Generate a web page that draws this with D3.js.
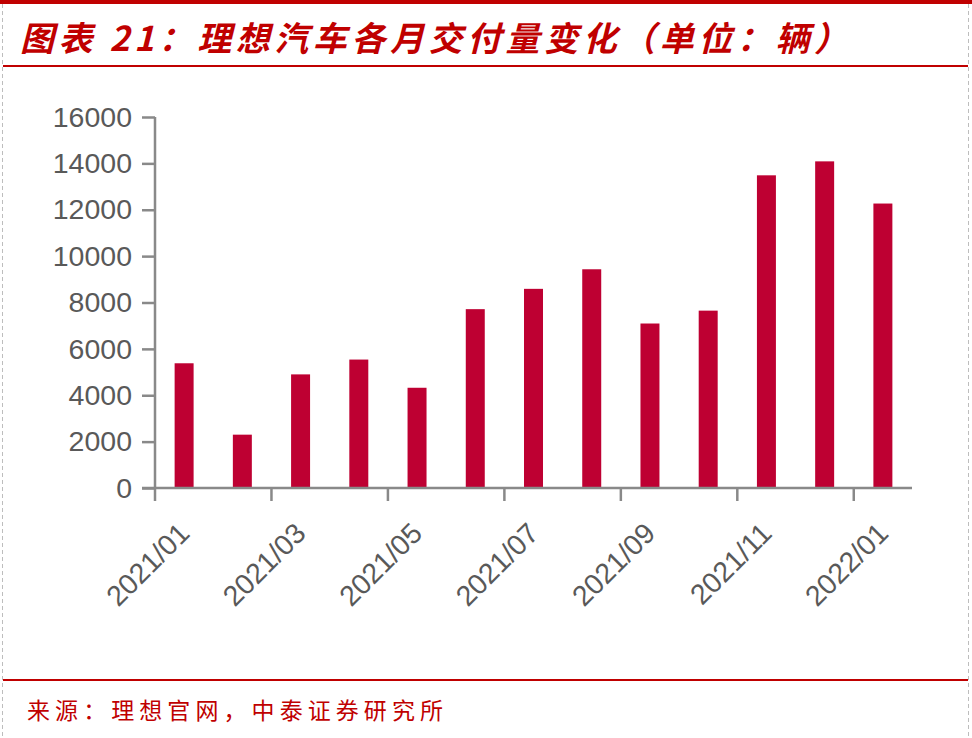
<!DOCTYPE html>
<html><head><meta charset="utf-8">
<script src="https://cdn.jsdelivr.net/npm/d3@7"></script>
<style>html,body{margin:0;padding:0;background:#fff;}svg{display:block;}</style>
</head><body>
<svg id="c" width="972" height="738"></svg>
<script>
const months = ["2021/01","2021/02","2021/03","2021/04","2021/05","2021/06","2021/07","2021/08","2021/09","2021/10","2021/11","2021/12","2022/01"];
const deliveries = [5379,2300,4900,5539,4323,7713,8589,9433,7094,7649,13485,14087,12268];
const yTicks = [0,2000,4000,6000,8000,10000,12000,14000,16000];
const labelMonths = ["2021/01","2021/03","2021/05","2021/07","2021/09","2021/11","2022/01"];
const titleText = "图表 21：理想汽车各月交付量变化（单位：辆）";
const sourceText = "来源：理想官网，中泰证券研究所";

const svg = d3.select("#c");
const red = "#C00000", barColor = "#BE0032", axisColor = "#898989", txt = "#595959";

// frame
svg.append("rect").attr("x",0).attr("y",0).attr("width",972).attr("height",4).attr("fill",red);
[2.5, 968.5].forEach(x => svg.append("line").attr("x1",x).attr("x2",x).attr("y1",4).attr("y2",738)
  .attr("stroke","#bdbdbd").attr("stroke-width",1).attr("stroke-dasharray","4,3"));
svg.append("line").attr("x1",3).attr("x2",968).attr("y1",66).attr("y2",66).attr("stroke",red).attr("stroke-width",2);
svg.append("line").attr("x1",3).attr("x2",968).attr("y1",680).attr("y2",680).attr("stroke",red).attr("stroke-width",2);

svg.append("text").attr("x",20).attr("y",51).text(titleText)
  .attr("font-family","'Noto Sans CJK SC'").attr("font-weight","bold").attr("font-style","italic")
  .attr("font-size",34).attr("fill",red).attr("textLength",828).attr("lengthAdjust","spacing");

svg.append("text").attr("x",27).attr("y",719).text(sourceText)
  .attr("font-family","'Noto Sans CJK SC'").attr("font-size",23).attr("fill",red)
  .attr("textLength",416).attr("lengthAdjust","spacing");

// scales
const x = d3.scaleBand().domain(months).range([155, 912]).paddingInner(0.674).paddingOuter(0.337);
const y = d3.scaleLinear().domain([0,16000]).range([488,117]);

// bars
svg.append("g").selectAll("rect").data(months).join("rect")
  .attr("x", d => x(d)).attr("width", x.bandwidth())
  .attr("y", (d,i) => y(deliveries[i])).attr("height", (d,i) => y(0) - y(deliveries[i]))
  .attr("fill", barColor);

// y axis
const yAxis = svg.append("g").attr("transform","translate(155,0)")
  .call(d3.axisLeft(y).tickValues(yTicks).tickSize(13).tickPadding(10).tickFormat(d3.format("d")));
yAxis.select(".domain").attr("stroke",axisColor).attr("stroke-width",2.5).attr("d","M0,117V488");
yAxis.selectAll(".tick line").attr("stroke",axisColor).attr("stroke-width",2.5);
yAxis.selectAll(".tick text").attr("fill",txt).attr("font-family","'Liberation Sans', Arial, sans-serif").attr("font-size",28.5);

// x axis
const step = x.step();
const x0 = x.range()[0];
svg.append("line").attr("x1",142).attr("x2",912).attr("y1",488).attr("y2",488).attr("stroke",axisColor).attr("stroke-width",2.5);
const tickIdx = d3.range(0, months.length + 1, 2);
svg.append("g").selectAll("line").data(tickIdx).join("line")
  .attr("x1", i => x0 + i*step).attr("x2", i => x0 + i*step)
  .attr("y1",488).attr("y2",501).attr("stroke",axisColor).attr("stroke-width",2.5);
svg.append("g").selectAll("text").data(labelMonths).join("text")
  .attr("transform", d => `translate(${x(d) + x.bandwidth()/2 + 7},535) rotate(-45)`)
  .attr("text-anchor","end").attr("fill",txt)
  .attr("font-family","'Liberation Sans', Arial, sans-serif").attr("font-size",28.5)
  .text(d => d);
</script>
</body></html>
